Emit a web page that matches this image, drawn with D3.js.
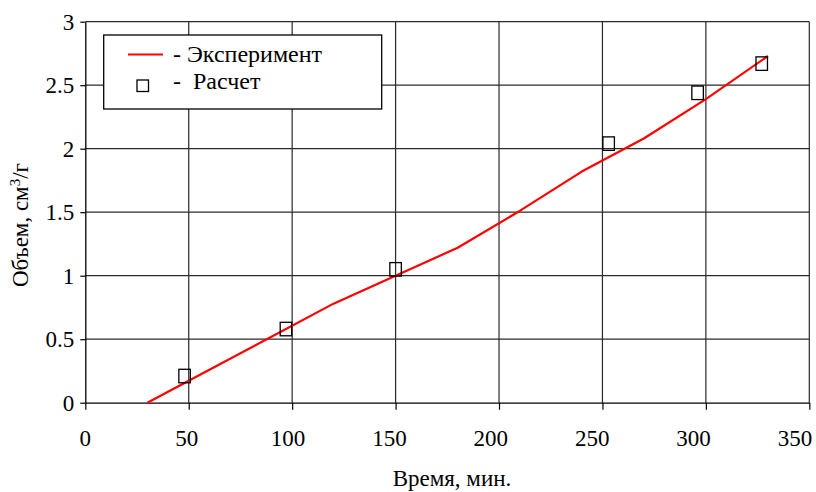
<!DOCTYPE html>
<html>
<head>
<meta charset="utf-8">
<script src="https://cdn.jsdelivr.net/npm/d3@7/dist/d3.min.js"></script>
<style>
  html, body { margin: 0; padding: 0; background: #fff; }
  svg { display: block; }
  text { font-family: "Liberation Serif", "Times New Roman", serif; fill: #000; }
</style>
</head>
<body>
<svg id="chart" width="816" height="492"></svg>
<script>
// Experimental curve: time (min) and volume (cm3/g)
const expTime   = [30, 60, 90, 120, 150, 180, 210, 240, 270, 300, 330];
const expVolume = [0, 0.26, 0.52, 0.78, 1.0, 1.22, 1.51, 1.82, 2.08, 2.39, 2.73];

// Calculated points
const calcTime   = [48, 97, 150, 253, 296, 327];
const calcVolume = [0.21, 0.58, 1.05, 2.04, 2.44, 2.67];

// Axis ticks
const xTicks = [0, 50, 100, 150, 200, 250, 300, 350];
const yTicks = [0, 0.5, 1, 1.5, 2, 2.5, 3];

const legendLabels = ["- Эксперимент", "-  Расчет"];

const svg = d3.select("#chart");
const plotL = 85.3, plotR = 809.3, plotT = 21.7, plotB = 402.7;

const x = d3.scaleLinear().domain([0, 350]).range([plotL, plotR]);
const y = d3.scaleLinear().domain([0, 3]).range([plotB, plotT]);
// x tick labels are laid out slightly tighter than the ticks so "350" fits
const xLabel = d3.scaleLinear().domain([0, 350]).range([plotL, 795]);

// Grid
const grid = svg.append("g").attr("stroke", "#2a2a2a").attr("stroke-width", 1.2);
grid.selectAll("line.v").data(xTicks.slice(1)).join("line")
  .attr("class", "v")
  .attr("x1", d => x(d)).attr("x2", d => x(d))
  .attr("y1", plotT).attr("y2", plotB);
grid.selectAll("line.h").data(yTicks.slice(1)).join("line")
  .attr("class", "h")
  .attr("x1", plotL).attr("x2", plotR)
  .attr("y1", d => y(d)).attr("y2", d => y(d));

// Axes
const xAxis = d3.axisBottom(x).tickValues(xTicks).tickSize(7).tickSizeOuter(0).tickFormat("");
const gx = svg.append("g").attr("transform", `translate(0,${plotB})`).call(xAxis);
const yAxis = d3.axisLeft(y).tickValues(yTicks).tickSize(5).tickSizeOuter(0).tickPadding(6)
  .tickFormat(d => String(d));
const gy = svg.append("g").attr("transform", `translate(${plotL},0)`).call(yAxis);

[gx, gy].forEach(g => {
  g.select(".domain").attr("stroke", "#000").attr("stroke-width", 1.3);
  g.selectAll(".tick line").attr("stroke", "#000").attr("stroke-width", 1.2);
  g.selectAll(".tick text")
    .attr("font-family", '"Liberation Serif", "Times New Roman", serif')
    .attr("font-size", 23).attr("fill", "#000");
});

svg.append("g").selectAll("text").data(xTicks).join("text")
  .attr("x", d => xLabel(d)).attr("y", 446)
  .attr("text-anchor", "middle").attr("font-size", 23)
  .text(d => d3.format("d")(d));

// Axis titles
svg.append("text")
  .attr("x", 452).attr("y", 486)
  .attr("text-anchor", "middle").attr("font-size", 23)
  .text("Время, мин.");

const yTitle = svg.append("text")
  .attr("transform", "translate(28,225) rotate(-90)")
  .attr("text-anchor", "middle").attr("font-size", 23);
yTitle.append("tspan").text("Объем, см");
yTitle.append("tspan").attr("font-size", 15).attr("dy", -8).text("3");
yTitle.append("tspan").attr("dy", 8).text("/г");

// Experimental line
const line = d3.line().x(d => x(d[0])).y(d => y(d[1]));
svg.append("path")
  .datum(d3.zip(expTime, expVolume))
  .attr("fill", "none").attr("stroke", "#ff0000").attr("stroke-width", 2.2)
  .attr("stroke-linejoin", "round")
  .attr("d", line);

// Calculated markers
const mw = 11.5, mh = 13.5;
svg.append("g").selectAll("rect").data(d3.zip(calcTime, calcVolume)).join("rect")
  .attr("x", d => x(d[0]) - mw / 2).attr("y", d => y(d[1]) - mh / 2)
  .attr("width", mw).attr("height", mh)
  .attr("fill", "none").attr("stroke", "#000").attr("stroke-width", 1.3);

// Legend
const lg = svg.append("g");
lg.append("rect").attr("x", 103.7).attr("y", 35).attr("width", 278).attr("height", 74)
  .attr("fill", "#fff").attr("stroke", "#000").attr("stroke-width", 1.3);
lg.append("line").attr("x1", 128).attr("x2", 163).attr("y1", 54.5).attr("y2", 54.5)
  .attr("stroke", "#ff0000").attr("stroke-width", 2.2);
lg.append("rect").attr("x", 137).attr("y", 80).attr("width", 11.5).attr("height", 11.5)
  .attr("fill", "none").attr("stroke", "#000").attr("stroke-width", 1.3);
lg.selectAll("text").data(legendLabels).join("text")
  .attr("x", 173).attr("y", (d, i) => i === 0 ? 62 : 89)
  .attr("font-size", 24)
  .attr("xml:space", "preserve")
  .style("white-space", "pre")
  .text(d => d);
</script>
</body>
</html>
